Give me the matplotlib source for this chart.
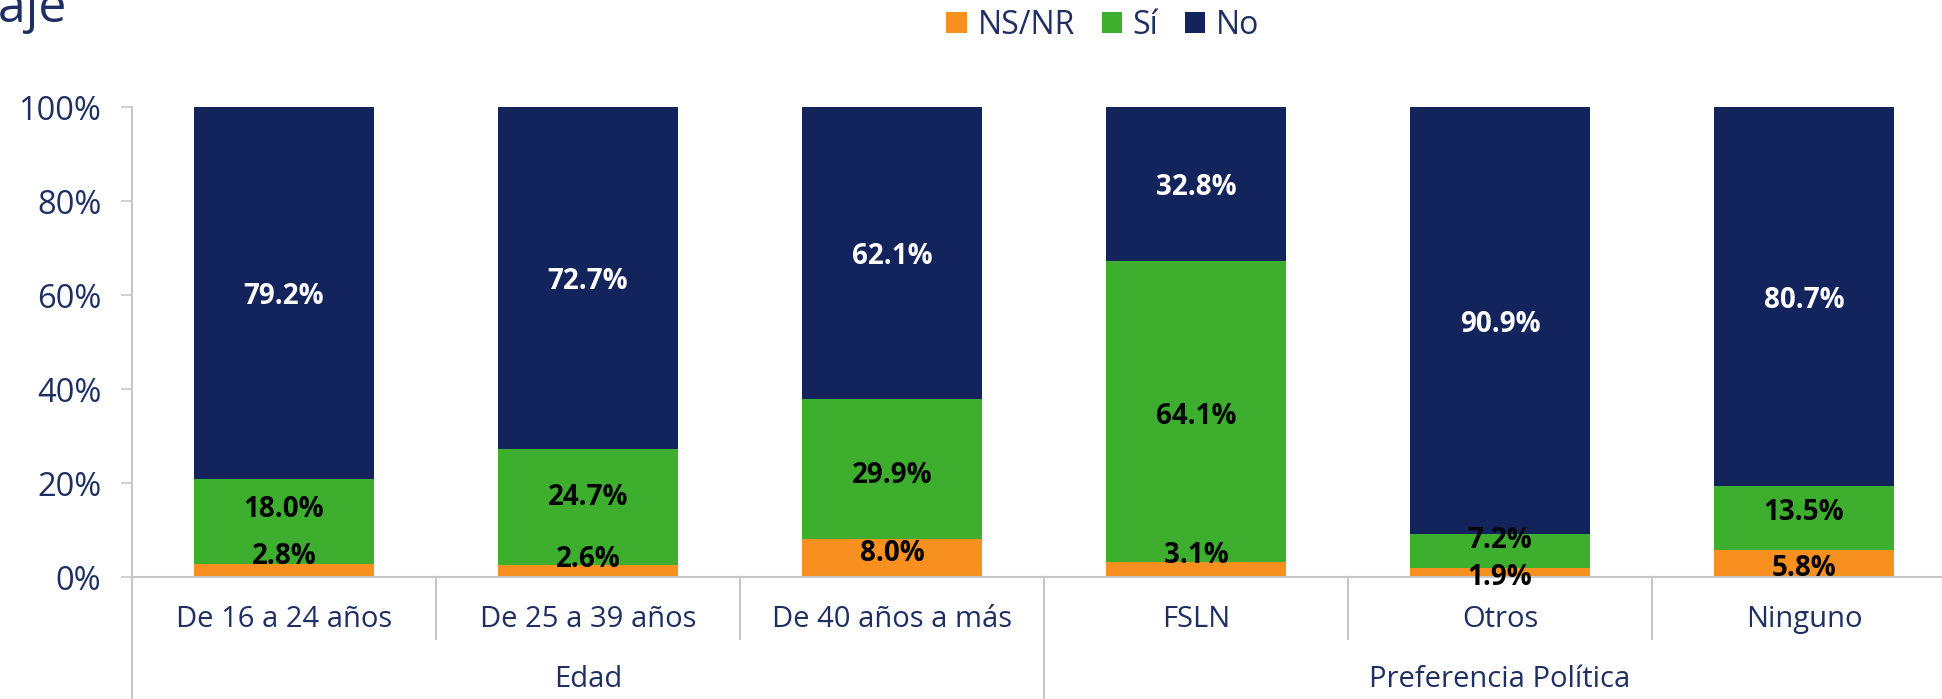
import matplotlib
matplotlib.use("Agg")
import matplotlib.pyplot as plt
from matplotlib.patches import Patch
from matplotlib.lines import Line2D
import numpy as np

# ---------------- data ----------------
categories = ["De 16 a 24 años", "De 25 a 39 años", "De 40 años a más",
              "FSLN", "Otros", "Ninguno"]
groups = ["Edad", "Preferencia Política"]
group_sizes = [3, 3]
series_names = ["NS/NR", "Sí", "No"]
ns_nr = [2.8, 2.6, 8.0, 3.1, 1.9, 5.8]
si = [18.0, 24.7, 29.9, 64.1, 7.2, 13.5]
no = [79.2, 72.7, 62.1, 32.8, 90.9, 80.7]
yticks = [0, 20, 40, 60, 80, 100]
title_text = "Porcentaje"

# ---------------- style ----------------
plt.rcParams['font.family'] = ['Open Sans', 'DejaVu Sans']
C_NAVY = "#13235B"
C_GREEN = "#3DAE2E"
C_ORANGE = "#F7901E"
C_TEXT = "#1F2F63"
C_AXIS = "#C8C8C8"
# manual label nudges (percentage points) as in the reference
nudge_ns = [3.7, 3.2, 1.7, 3.8, -0.3, -0.35]
nudge_si = [3.3, 2.7, -0.6, -0.25, 3.0, 1.9]
nudge_no = [0, 0, 0, 0, 0, 0]

W, H = 1942, 699
fig = plt.figure(figsize=(W / 100, H / 100), dpi=100)
ax = fig.add_axes([132 / W, (H - 577) / H, 1824 / W, 470 / H])

x = np.arange(len(categories))
bw = 0.589
series = [ns_nr, si, no]
colors = [C_ORANGE, C_GREEN, C_NAVY]
label_colors = ["black", "black", "white"]
nudges = [nudge_ns, nudge_si, nudge_no]
bottom = np.zeros(len(categories))
for vals, col, lc, nd in zip(series, colors, label_colors, nudges):
    vals = np.array(vals)
    ax.bar(x, vals, bw, bottom=bottom, color=col, edgecolor='none', zorder=2)
    for xi, b, v, n in zip(x, bottom, vals, nd):
        ax.text(xi, b + v / 2 + n, f"{v:.1f}%", ha='center', va='center_baseline',
                fontsize=20, fontweight='bold', color=lc, zorder=5, clip_on=False)
    bottom = bottom + vals

ax.set_xlim(-0.5, len(categories) - 0.5)
ax.set_ylim(0, 100)
ax.set_yticks(yticks)
ax.set_yticklabels([f"{t}%" for t in yticks], fontsize=23.5, color=C_TEXT)
ax.tick_params(axis='y', length=8, width=1.2, color=C_AXIS, pad=14)
ax.set_xticks([])
for s in ['top', 'right']:
    ax.spines[s].set_visible(False)
for s in ['left', 'bottom']:
    ax.spines[s].set_color(C_AXIS)
    ax.spines[s].set_linewidth(1.5)

bot = -(H - 577) / 470  # figure bottom in axes coords
trans = ax.get_xaxis_transform()
# left axis extension
ax.add_line(Line2D([-0.5, -0.5], [0, bot], transform=trans, color=C_AXIS, lw=1.5, clip_on=False))
# separators
bounds = np.cumsum(group_sizes)[:-1] - 0.5
for i in range(1, len(categories)):
    xs = i - 0.5
    y1 = bot if xs in bounds else -0.132
    ax.add_line(Line2D([xs, xs], [0, y1], transform=trans, color=C_AXIS, lw=1.5, clip_on=False))
# category labels
for xi, c in zip(x, categories):
    ax.text(xi, -0.0894, c, transform=trans, ha='center', va='center', fontsize=21, color=C_TEXT)
# group labels
start = 0
for g, n in zip(groups, group_sizes):
    ax.text(start + (n - 1) / 2, -0.219, g, transform=trans, ha='center', va='center',
            fontsize=21, color=C_TEXT)
    start += n

# legend
handles = [Patch(facecolor=c, edgecolor='none') for c in colors]
fig.legend(handles, series_names, loc='center', bbox_to_anchor=(1103 / W, 1 - 25 / H),
           ncol=3, frameon=False, fontsize=23, labelcolor=C_TEXT,
           handlelength=0.63, handleheight=0.63, handletextpad=0.34, columnspacing=0.84)

# partially visible title (cut off at the left edge as in the reference)
fig.text(67 / W, 1 - 22 / H, title_text, ha='right', va='baseline', fontsize=36, color=C_TEXT)

fig.savefig("out.png", dpi=100)
